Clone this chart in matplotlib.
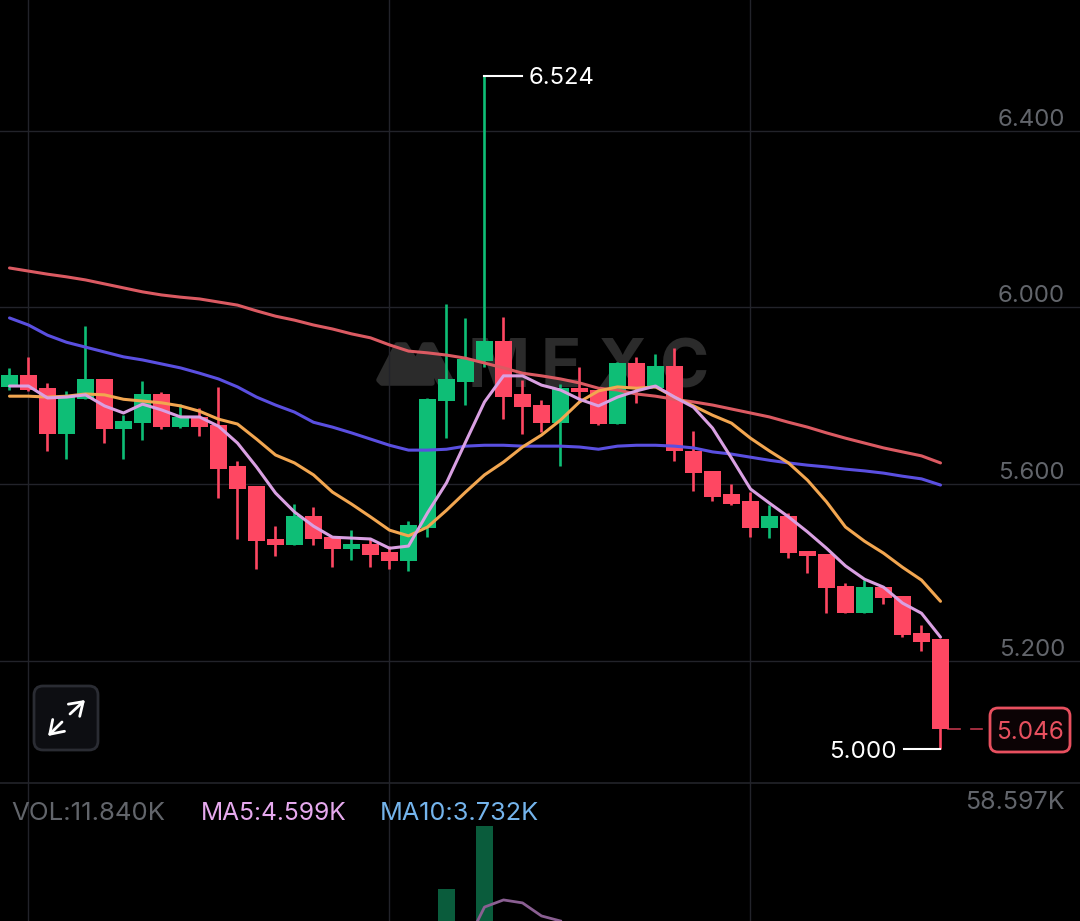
import matplotlib
matplotlib.use("Agg")
import matplotlib.pyplot as plt
from matplotlib.patches import FancyBboxPatch, Polygon

plt.rcParams['font.family'] = ['Inter', 'DejaVu Sans']

# candles, left to right
opens = [5.820, 5.848, 5.817, 5.713, 5.793, 5.837, 5.725, 5.738, 5.805, 5.729,
         5.752, 5.734, 5.641, 5.595, 5.477, 5.462, 5.527, 5.480, 5.454, 5.465,
         5.446, 5.426, 5.501, 5.787, 5.832, 5.879, 5.924, 5.803, 5.778, 5.739,
         5.817, 5.813, 5.737, 5.874, 5.817, 5.867, 5.675, 5.630, 5.577, 5.561,
         5.500, 5.527, 5.449, 5.443, 5.370, 5.308, 5.368, 5.348, 5.264, 5.250]
closes = [5.848, 5.813, 5.713, 5.797, 5.837, 5.725, 5.743, 5.805, 5.729, 5.751,
          5.729, 5.635, 5.589, 5.471, 5.462, 5.527, 5.475, 5.454, 5.465, 5.440,
          5.426, 5.507, 5.793, 5.837, 5.882, 5.924, 5.797, 5.774, 5.739, 5.817,
          5.808, 5.737, 5.874, 5.817, 5.867, 5.675, 5.625, 5.572, 5.556, 5.500,
          5.527, 5.445, 5.437, 5.364, 5.308, 5.368, 5.342, 5.259, 5.243, 5.046]
highs = [5.862, 5.888, 5.829, 5.811, 5.958, 5.839, 5.756, 5.833, 5.808, 5.781,
         5.772, 5.819, 5.652, 5.595, 5.506, 5.555, 5.548, 5.480, 5.496, 5.477,
         5.461, 5.517, 5.796, 6.007, 5.975, 6.524, 5.979, 5.836, 5.790, 5.826,
         5.866, 5.813, 5.876, 5.887, 5.894, 5.908, 5.720, 5.630, 5.600, 5.583,
         5.553, 5.535, 5.449, 5.443, 5.376, 5.383, 5.368, 5.348, 5.281, 5.250]
lows = [5.813, 5.811, 5.676, 5.658, 5.793, 5.694, 5.658, 5.701, 5.724, 5.727,
        5.710, 5.568, 5.475, 5.407, 5.438, 5.462, 5.463, 5.412, 5.428, 5.412,
        5.408, 5.404, 5.481, 5.705, 5.778, 5.866, 5.747, 5.713, 5.717, 5.641,
        5.790, 5.733, 5.737, 5.784, 5.817, 5.653, 5.584, 5.561, 5.553, 5.481,
        5.479, 5.432, 5.398, 5.309, 5.308, 5.308, 5.329, 5.255, 5.223, 5.000]

# moving averages on the price panel
ma_pink = [5.822, 5.822, 5.795, 5.797, 5.802, 5.777, 5.761, 5.781, 5.768, 5.752,
           5.752, 5.731, 5.693, 5.639, 5.580, 5.537, 5.505, 5.480, 5.478, 5.476,
           5.455, 5.460, 5.535, 5.603, 5.695, 5.786, 5.845, 5.845, 5.824, 5.813,
           5.792, 5.777, 5.797, 5.811, 5.822, 5.797, 5.774, 5.727, 5.659, 5.589,
           5.557, 5.526, 5.492, 5.455, 5.415, 5.385, 5.367, 5.331, 5.308, 5.254]
ma_orange = [5.799, 5.799, 5.797, 5.799, 5.804, 5.802, 5.792, 5.788, 5.784, 5.777,
             5.765, 5.747, 5.736, 5.702, 5.666, 5.648, 5.621, 5.582, 5.555, 5.526,
             5.496, 5.483, 5.503, 5.541, 5.582, 5.621, 5.650, 5.684, 5.711, 5.745,
             5.786, 5.811, 5.820, 5.817, 5.820, 5.797, 5.777, 5.756, 5.738, 5.704,
             5.675, 5.648, 5.609, 5.560, 5.503, 5.471, 5.444, 5.412, 5.383, 5.335]
ma_blue = [5.976, 5.960, 5.937, 5.921, 5.910, 5.899, 5.888, 5.881, 5.872, 5.863,
           5.851, 5.838, 5.820, 5.797, 5.779, 5.763, 5.740, 5.729, 5.716, 5.702,
           5.688, 5.677, 5.677, 5.679, 5.686, 5.688, 5.688, 5.686, 5.686, 5.686,
           5.684, 5.679, 5.686, 5.688, 5.688, 5.686, 5.682, 5.673, 5.668, 5.661,
           5.654, 5.648, 5.643, 5.639, 5.634, 5.630, 5.625, 5.618, 5.612, 5.598]
ma_red = [6.089, 6.082, 6.075, 6.069, 6.062, 6.053, 6.044, 6.035, 6.028, 6.023,
          6.019, 6.012, 6.005, 5.992, 5.980, 5.971, 5.960, 5.951, 5.940, 5.931,
          5.915, 5.901, 5.897, 5.892, 5.885, 5.874, 5.863, 5.851, 5.845, 5.838,
          5.829, 5.817, 5.813, 5.804, 5.799, 5.792, 5.786, 5.779, 5.770, 5.761,
          5.752, 5.740, 5.729, 5.716, 5.704, 5.693, 5.682, 5.673, 5.664, 5.648]

price_ticks = [6.4, 6.0, 5.6, 5.2]
price_labels = ['6.400', '6.000', '5.600', '5.200']
grid_candles = [1, 20, 39]

# only the tops of the volume panel are in the crop
vol_idx = [23, 25]
vol_vals = [37.4, 58.597]
vol_ma_idx = [24, 25, 26, 27, 28, 29]
vol_ma = [18.5, 31.3, 33.7, 32.7, 28.3, 26.6]

RED = '#fe4762'
GREEN = '#0ebe76'
GRID = '#22232a'
GRAY = '#62656b'
MARK = '#2b2b2b'

W, H = 1080, 921
SPLIT = 783
fig = plt.figure(figsize=(W / 100, H / 100), dpi=100, facecolor='black')

# pixel layer under the chart, for the watermark and the button
bg = fig.add_axes([0, 0, 1, 1], zorder=0)
bg.set_xlim(0, W)
bg.set_ylim(H, 0)
bg.axis('off')
bg.add_patch(Polygon([(379, 380), (397, 345), (405, 345), (416, 362), (424, 345),
                      (432, 345), (452, 383), (440, 383), (429, 363), (432, 383), (382, 383)],
                     closed=True, fc=MARK, ec=MARK, lw=4, joinstyle='round'))
for letter, left in zip('MEXC', [468, 541, 597, 660]):
    bg.text(left, 387, letter, color=MARK, fontsize=48, fontweight='bold', va='baseline', ha='left')
bg.add_patch(FancyBboxPatch((40, 692), 52, 52, boxstyle='round,pad=6,rounding_size=9',
                            fc='#0d0e12', ec='#2a2c33', lw=2))
arrow = dict(arrowstyle='->,head_length=0.45,head_width=0.3', color='white', lw=2,
             mutation_scale=20, shrinkA=0, shrinkB=0)
bg.annotate('', xy=(85, 700), xytext=(70, 714), arrowprops=arrow)
bg.annotate('', xy=(48, 736), xytext=(62, 722), arrowprops=arrow)

# price panel
ax = fig.add_axes([0, 1 - SPLIT / H, 1, SPLIT / H], zorder=1)
ax.patch.set_visible(False)
ax.set_xlim(-9.5 / 19, (W - 9.5) / 19)
ax.set_ylim(4.924, 6.6952)
for s in ['top', 'left', 'right']:
    ax.spines[s].set_visible(False)
ax.spines['bottom'].set_color(GRID)
ax.spines['bottom'].set_linewidth(1.2)
ax.set_xticks(grid_candles)
ax.set_xticklabels([])
ax.set_yticks(price_ticks)
ax.set_yticklabels(price_labels)
ax.yaxis.tick_right()
ax.tick_params(axis='both', length=0)
ax.tick_params(axis='y', pad=-10.8, labelcolor=GRAY, labelsize=17.3)
for lab in ax.get_yticklabels():
    lab.set_ha('right')
    lab.set_va('bottom')
ax.grid(True, color=GRID, lw=1)
ax.set_axisbelow(True)

for i in range(len(opens)):
    col = GREEN if closes[i] >= opens[i] else RED
    ax.vlines(i, lows[i], highs[i], color=col, lw=1.9, zorder=3)
    ax.bar(i, abs(closes[i] - opens[i]), bottom=min(opens[i], closes[i]), width=0.92, color=col, zorder=3)

xs = list(range(len(opens)))
ax.plot(xs, ma_red, color='#db5a62', lw=2.2, zorder=4, solid_capstyle='round')
ax.plot(xs, ma_blue, color='#5a4fe0', lw=2.2, zorder=4, solid_capstyle='round')
ax.plot(xs, ma_orange, color='#f2a650', lw=2.2, zorder=4, solid_capstyle='round')
ax.plot(xs, ma_pink, color='#d9a0e2', lw=2.2, zorder=4, solid_capstyle='round')

# high / low callouts
ax.plot([25, 26.95], [6.524, 6.524], color='white', lw=1.5, zorder=5)
ax.text(27.3, 6.524, '6.524', color='white', fontsize=17.2, va='center_baseline', ha='left')
ax.plot([47.1, 49], [5.0, 5.0], color='white', lw=1.5, zorder=5)
ax.text(46.7, 5.0, '5.000', color='white', fontsize=17.4, va='center_baseline', ha='right')

# last price tag, dashed leader in two pieces
ax.plot([49.4, 50.03], [5.046, 5.046], color=RED, lw=1.2, alpha=0.75, zorder=2)
ax.plot([50.6, 51.2], [5.046, 5.046], color=RED, lw=1.2, alpha=0.75, zorder=2)
ax.text(1029.5 / W, 1 - 730 / SPLIT, '5.046', transform=ax.transAxes, color='#e8505f', fontsize=17.5,
        va='center_baseline', ha='center', zorder=6)
bg.add_patch(FancyBboxPatch((993, 711), 74, 38, boxstyle='round,pad=3,rounding_size=8',
                            fc='#0c0305', ec='#e8505f', lw=2))

# volume panel
vax = fig.add_axes([0, 0, 1, (H - SPLIT) / H], zorder=1)
vax.patch.set_visible(False)
vax.set_xlim(ax.get_xlim())
vax.set_ylim(26.6, 73.1)
for s in vax.spines.values():
    s.set_visible(False)
vax.set_xticks(grid_candles)
vax.set_xticklabels([])
vax.set_yticks([])
vax.tick_params(length=0)
vax.grid(True, axis='x', color=GRID, lw=1)
vax.set_axisbelow(True)
vax.bar(vol_idx, vol_vals, width=0.88, color='#0a5c3c', zorder=2)
vax.plot(vol_ma_idx, vol_ma, color='#8a5f92', lw=2, zorder=3)

vax.text(11, 811, 'VOL:11.840K', color=GRAY, fontsize=18.6, va='center_baseline', ha='left',
         transform=bg.transData)
vax.text(201, 811, 'MA5:4.599K', color='#e6a9ee', fontsize=17.7, va='center_baseline', ha='left',
         transform=bg.transData)
vax.text(380, 811, 'MA10:3.732K', color='#74b4ec', fontsize=18.2, va='center_baseline', ha='left',
         transform=bg.transData)
vax.text(1065, 800, '58.597K', color=GRAY, fontsize=18, va='center_baseline', ha='right',
         transform=bg.transData)

fig.savefig('out.png', dpi=100, facecolor='black')
